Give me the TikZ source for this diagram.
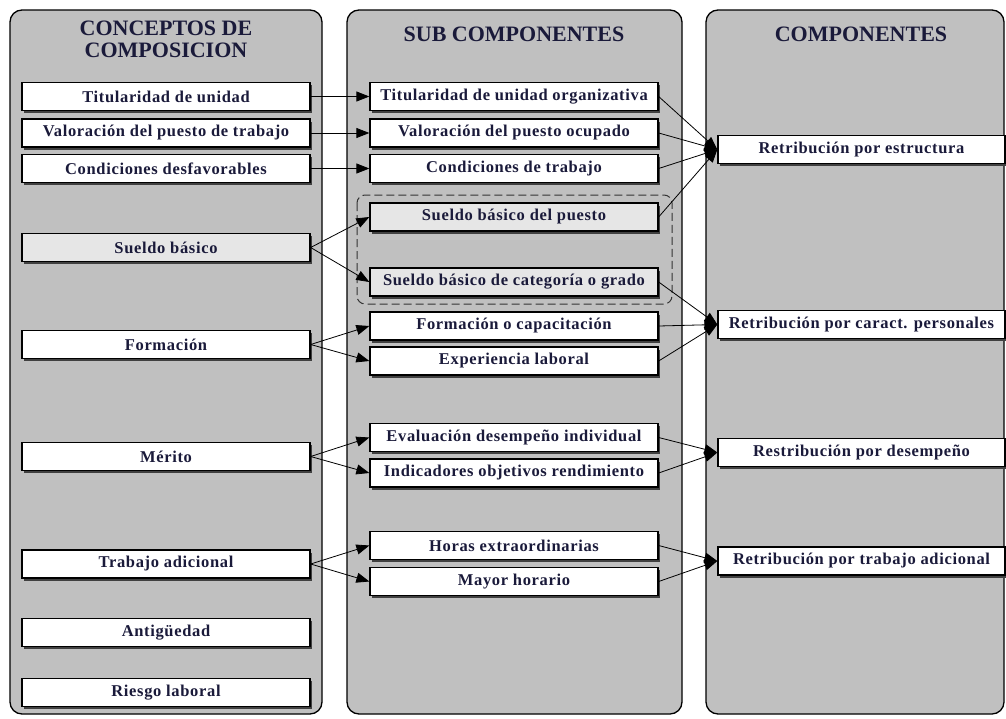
\documentclass[tikz,border=0pt]{standalone}
\usepackage{fontspec}
\setmainfont{Liberation Serif}
\newfontfamily\boxfont[LetterSpace=4]{Liberation Serif}
\usetikzlibrary{arrows.meta,shadows}
\definecolor{panelgray}{HTML}{C0C0C0}
\definecolor{lightbox}{HTML}{E6E6E6}
\definecolor{ink}{HTML}{1A1A3A}
\tikzset{
  panel/.style={draw=black, line width=1.3pt, fill=panelgray, rounded corners=12pt},
  heading/.style={font=\bfseries\fontsize{22}{22}\selectfont, text=ink, align=center, inner sep=0pt},
  item/.style={draw=black, line width=1.3pt, fill=white, minimum height=28pt, inner sep=0pt,
    font=\boxfont\bfseries\fontsize{16.5}{18}\selectfont, text=ink,
    drop shadow={shadow xshift=2pt, shadow yshift=-2.5pt, fill=black!75, opacity=1}},
  leftitem/.style={item, minimum width=288pt},
  miditem/.style={item, minimum width=288pt},
  rightitem/.style={item, minimum width=287pt},
  shaded/.style={fill=lightbox},
  conn/.style={-{Triangle[length=13pt,width=10pt]}, line width=0.8pt},
  group/.style={draw=black!80, line width=1pt, dash pattern=on 8pt off 4pt, rounded corners=8pt}
}
\begin{document}
\begin{tikzpicture}[x=1pt,y=-1pt]
\useasboundingbox (0,0) rectangle (1006,718);
% three column panels
\draw[panel] (10,10) rectangle (322,714);
\draw[panel] (347,10) rectangle (682,714);
\draw[panel] (706,10) rectangle (1004,714);
% column headings
\node[heading] (h1) at (166,39) {CONCEPTOS DE\\COMPOSICION};
\node[heading] (h2) at (514,34) {SUB COMPONENTES};
\node[heading] (h3) at (861,34) {COMPONENTES};
% group frame for the two basic salary items
\draw[group] (357,195) rectangle (672,304);
% composition concepts
\node[leftitem] (l1) at (166,96.5) {Titularidad de unidad};
\node[leftitem] (l2) at (166,133) {Valoración del puesto de trabajo};
\node[leftitem] (l3) at (166,168.5) {Condiciones desfavorables};
\node[leftitem, shaded] (l4) at (166,247.5) {Sueldo básico};
\node[leftitem] (l5) at (166,344.5) {Formación};
\node[leftitem] (l6) at (166,456.5) {Mérito};
\node[leftitem] (l7) at (166,564) {Trabajo adicional};
\node[leftitem] (l8) at (166,632.5) {Antigüedad};
\node[leftitem] (l9) at (166,692.5) {Riesgo laboral};
% sub components
\node[miditem] (m1) at (514,96.5) {Titularidad de unidad organizativa};
\node[miditem] (m2) at (514,133) {Valoración del puesto ocupado};
\node[miditem] (m3) at (514,168.5) {Condiciones de trabajo};
\node[miditem, shaded] (m4) at (514,217) {Sueldo básico del puesto};
\node[miditem, shaded] (m5) at (514,282) {Sueldo básico de categoría o grado};
\node[miditem] (m6) at (514,326) {Formación o capacitación};
\node[miditem] (m7) at (514,361) {Experiencia laboral};
\node[miditem] (m8) at (514,437.5) {Evaluación desempeño individual};
\node[miditem] (m9) at (514,473) {Indicadores objetivos rendimiento};
\node[miditem] (m10) at (514,545.5) {Horas extraordinarias};
\node[miditem] (m11) at (514,581.5) {Mayor horario};
% components
\node[rightitem] (r1) at (861.5,149.5) {Retribución por estructura};
\node[rightitem] (r2) at (861.5,324.5) {Retribución por caract. personales};
\node[rightitem] (r3) at (861.5,452.5) {Restribución por desempeño};
\node[rightitem] (r4) at (861.5,561) {Retribución por trabajo adicional};
% concepts to sub components
\draw[conn] (l1.east) -- (m1.west);
\draw[conn] (l2.east) -- (m2.west);
\draw[conn] (l3.east) -- (m3.west);
\draw[conn] (l4.east) -- (m4.west);
\draw[conn] (l4.east) -- (m5.west);
\draw[conn] (l5.east) -- (m6.west);
\draw[conn] (l5.east) -- (m7.west);
\draw[conn] (l6.east) -- (m8.west);
\draw[conn] (l6.east) -- (m9.west);
\draw[conn] (l7.east) -- (m10.west);
\draw[conn] (l7.east) -- (m11.west);
% sub components to components
\draw[conn] (m1.east) -- (r1.west);
\draw[conn] (m2.east) -- (r1.west);
\draw[conn] (m3.east) -- (r1.west);
\draw[conn] (m4.east) -- (r1.west);
\draw[conn] (m5.east) -- (r2.west);
\draw[conn] (m6.east) -- (r2.west);
\draw[conn] (m7.east) -- (r2.west);
\draw[conn] (m8.east) -- (r3.west);
\draw[conn] (m9.east) -- (r3.west);
\draw[conn] (m10.east) -- (r4.west);
\draw[conn] (m11.east) -- (r4.west);
\end{tikzpicture}
\end{document}
